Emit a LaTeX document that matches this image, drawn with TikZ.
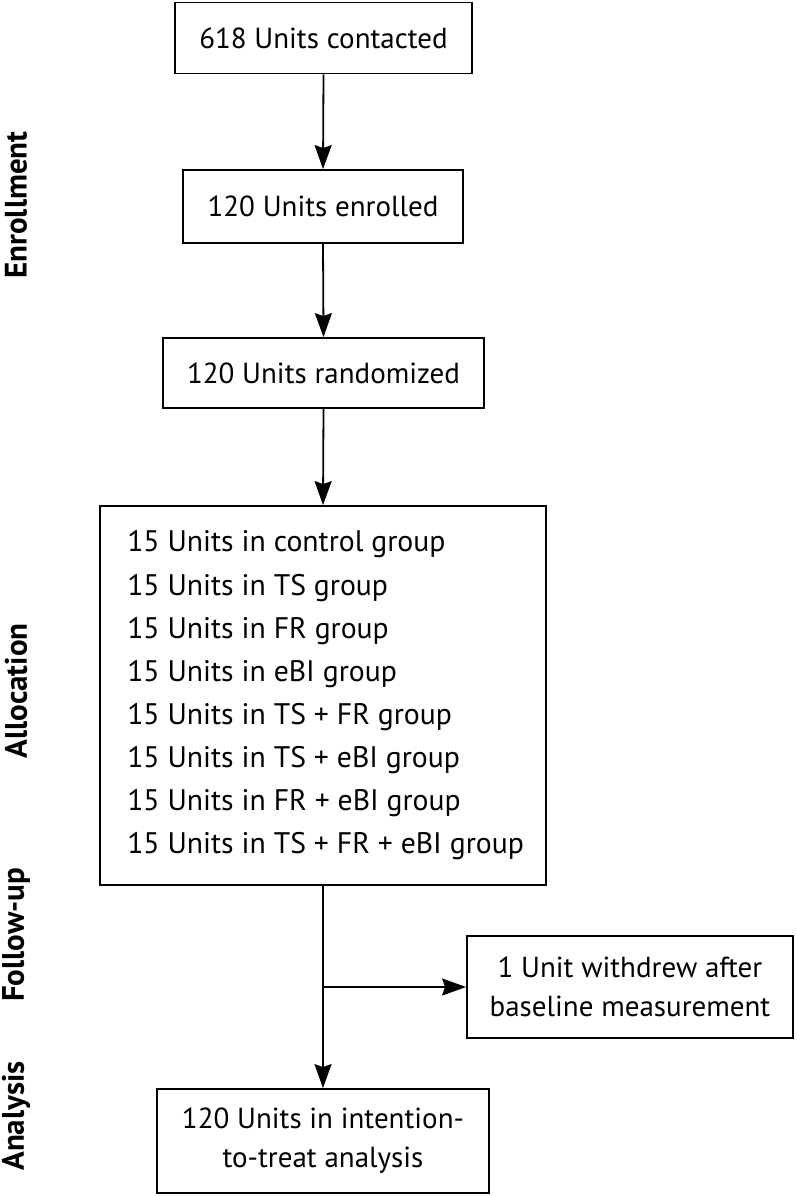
\documentclass[tikz,border=0pt]{standalone}
\usepackage{fontspec}
\setmainfont{PT Sans}
\usetikzlibrary{arrows.meta}
\begin{document}
\begin{tikzpicture}[x=1pt,y=-1pt,
  box/.style={draw=black, line width=1.8pt, fill=white, inner sep=0pt, align=center,
    font=\fontsize{29}{39}\selectfont},
  listtext/.style={inner sep=0pt, align=left, anchor=west, font=\fontsize{29.7}{43.15}\selectfont},
  phase/.style={rotate=90, font=\fontsize{31}{36}\selectfont\bfseries, inner sep=0pt},
  conn/.style={line width=1.8pt, -{Stealth[length=24pt,width=17pt,inset=3pt]}}]
\useasboundingbox (0,0) rectangle (796,1196);
\fill[white] (0,0) rectangle (796,1196);

\node[box, minimum width=297pt, minimum height=71pt] (b1) at (323.5,38) {618 Units contacted};
\node[box, minimum width=280pt, minimum height=73pt] (b2) at (323,206.5) {120 Units enrolled};
\node[box, minimum width=321pt, minimum height=70pt] (b3) at (323.5,373) {120 Units randomized};
\node[box, minimum width=446pt, minimum height=379pt] (b4) at (323,695.5) {};
\node[listtext] (b4t) at ([xshift=28pt]b4.west)
  {15 Units in control group\\
   15 Units in TS group\\
   15 Units in FR group\\
   15 Units in eBI group\\
   15 Units in TS + FR group\\
   15 Units in TS + eBI group\\
   15 Units in FR + eBI group\\
   15 Units in TS + FR + eBI group};
\node[box, minimum width=326pt, minimum height=102pt] (b5) at (630,987)
  {1 Unit withdrew after\\baseline measurement};
\node[box, minimum width=332pt, minimum height=104pt] (b6) at (323,1141)
  {120 Units in intention-\\to-treat analysis};

\node[phase] (p1) at (16,205) {Enrollment};
\node[phase] (p2) at (16,691) {Allocation};
\node[phase] (p3) at (16,935) {Follow-up};
\node[phase] (p4) at (16,1116) {Analysis};

\draw[conn] (b1.south) -- (b2.north);
\draw[conn] (b2.south) -- (b3.north);
\draw[conn] (b3.south) -- (b4.north);
\draw[conn] (b4.south) -- (b6.north);
\coordinate (br) at (b4.south |- b5.west);
\draw[conn] (br) -- (b5.west);
\end{tikzpicture}
\end{document}
